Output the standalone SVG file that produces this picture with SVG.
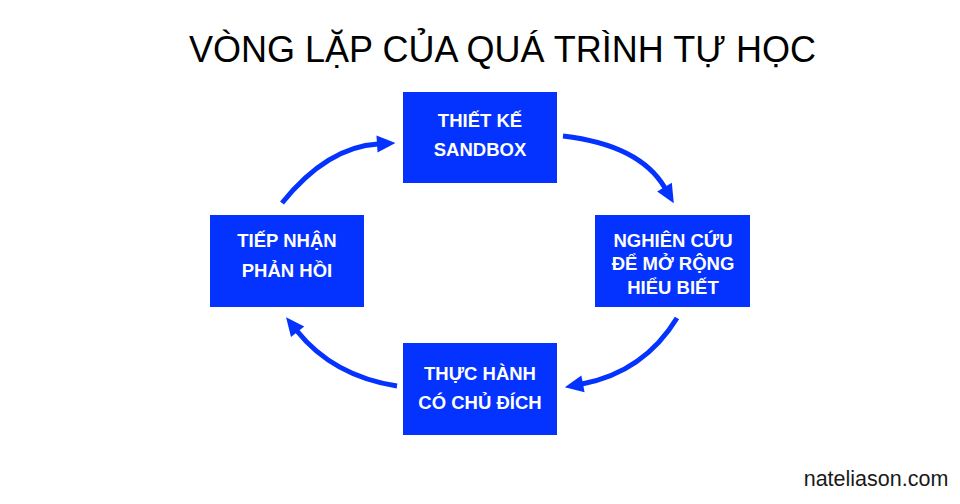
<svg xmlns="http://www.w3.org/2000/svg" width="960" height="504" viewBox="0 0 960 504">
  <style>
    .box { fill: #0433FF; }
    .lbl { font-family: "Liberation Sans", Arial, sans-serif; font-size: 18.5px; font-weight: bold; fill: #FFFFFF; text-anchor: middle; }
    .title { font-family: "Liberation Sans", Arial, sans-serif; font-size: 36px; fill: #000000; text-anchor: middle; }
    .foot { font-family: "Liberation Sans", Arial, sans-serif; font-size: 21.5px; fill: #1a1a1a; text-anchor: middle; }
    .conn { fill: none; stroke: #0433FF; stroke-width: 5; marker-end: url(#head); }
  </style>
  <defs>
    <marker id="head" markerUnits="userSpaceOnUse" markerWidth="22" markerHeight="20" refX="1" refY="8.5" orient="auto" overflow="visible">
      <path d="M0,0 L18.5,8.5 L0,17 Z" fill="#0433FF"/>
    </marker>
  </defs>
  <rect width="960" height="504" fill="#FFFFFF"/>
  <text class="title" x="502.5" y="62">VÒNG LẶP CỦA QUÁ TRÌNH TỰ HỌC</text>

  <g id="connectors">
    <path class="conn" d="M282,203 Q327,147 378,144"/>
    <path class="conn" d="M563,136 Q640,145 665,188"/>
    <path class="conn" d="M677,318 Q644,372 582,384"/>
    <path class="conn" d="M397,386 Q333,376 297,331"/>
  </g>

  <g id="node-thiet-ke">
    <rect class="box" x="403" y="92" width="154" height="91"/>
    <text class="lbl" x="480" y="127">THIẾT KẾ</text>
    <text class="lbl" x="480" y="156">SANDBOX</text>
  </g>
  <g id="node-nghien-cuu">
    <rect class="box" x="595" y="215" width="155" height="92"/>
    <text class="lbl" x="673" y="247">NGHIÊN CỨU</text>
    <text class="lbl" x="673" y="270">ĐỂ MỞ RỘNG</text>
    <text class="lbl" x="673" y="294">HIỂU BIẾT</text>
  </g>
  <g id="node-thuc-hanh">
    <rect class="box" x="403" y="343" width="154" height="92"/>
    <text class="lbl" x="480" y="380">THỰC HÀNH</text>
    <text class="lbl" x="480" y="409">CÓ CHỦ ĐÍCH</text>
  </g>
  <g id="node-tiep-nhan">
    <rect class="box" x="210" y="215" width="154" height="92"/>
    <text class="lbl" x="287" y="247">TIẾP NHẬN</text>
    <text class="lbl" x="287" y="277">PHẢN HỒI</text>
  </g>

  <text class="foot" x="876" y="486">nateliason.com</text>
</svg>
